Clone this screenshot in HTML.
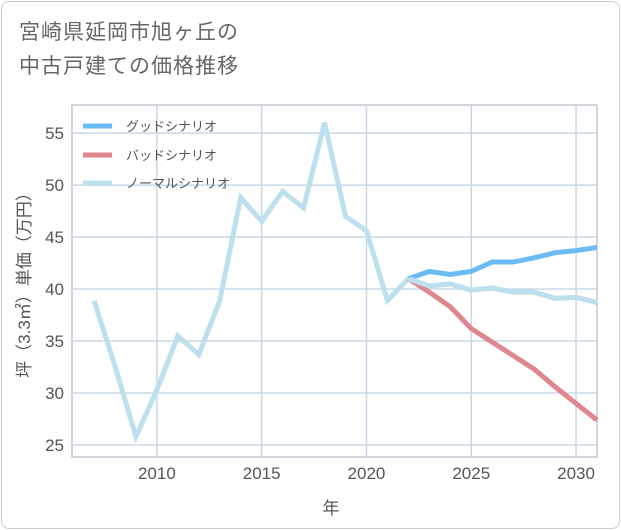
<!DOCTYPE html>
<html><head><meta charset="utf-8"><style>
body{margin:0;background:#fff;}
#card{position:absolute;left:1px;top:1px;width:617px;height:526px;border:1px solid #ccc;border-radius:8px;background:#fff;overflow:hidden;}
#title{position:absolute;left:17px;top:14px;font:21px "Liberation Sans","Noto Sans CJK JP",sans-serif;color:#666;line-height:34px;letter-spacing:1px;}
svg{position:absolute;left:0;top:0;}
text{font-family:"Liberation Sans","Noto Sans CJK JP",sans-serif;}
</style></head><body>
<div id="card">
<div id="title">宮崎県延岡市旭ヶ丘の<br>中古戸建ての価格推移</div>
</div>
<svg id="chart" width="621" height="530"></svg>
<script>
const years=[2007,2008,2009,2010,2011,2012,2013,2014,2015,2016,2017,2018,2019,2020,2021,2022,2023,2024,2025,2026,2027,2028,2029,2030,2031];
const normal=[38.9,32.6,25.8,30.3,35.5,33.7,38.9,48.8,46.5,49.4,47.8,56,47.0,45.6,38.9,41.0,40.3,40.5,39.9,40.1,39.7,39.7,39.1,39.2,38.7];
const forecastYears=[2022,2023,2024,2025,2026,2027,2028,2029,2030,2031];
const good=[41.0,41.7,41.4,41.7,42.6,42.6,43.0,43.5,43.7,44.0];
const bad=[41.0,39.7,38.3,36.2,34.9,33.6,32.3,30.6,29.0,27.4];
const xTicks=[2010,2015,2020,2025,2030];
const yTicks=[25,30,35,40,45,50,55];
const L=72,R=597,T=105,B=457,x0=2005.95,x1=2031,y0=23.85,y1=57.7;
const X=v=>L+(v-x0)/(x1-x0)*(R-L);
const Y=v=>B-(v-y0)/(y1-y0)*(B-T);
const svg=document.getElementById('chart');
const NS='http://www.w3.org/2000/svg';
function mk(t,a){const e=document.createElementNS(NS,t);for(const k in a)e.setAttribute(k,a[k]);svg.appendChild(e);return e;}
let bg=mk('rect',{x:L,y:T,width:R-L,height:B-T,fill:'#fff',stroke:'#aab','stroke-width':1});


yTicks.forEach(v=>{
 let g=mk('line',{x1:L,x2:R,y1:Y(v),y2:Y(v),stroke:'#c8d8e6','stroke-width':1.5});
 
 
 let t=mk('text',{x:L-8,y:Y(v)+6,'text-anchor':'end','font-size':17,fill:'#555'});t.textContent=v;
 
 
});
xTicks.forEach(v=>{
 let g=mk('line',{x1:X(v),x2:X(v),y1:T,y2:B,stroke:'#c8d8e6','stroke-width':1.5});
 
 
 let t=mk('text',{x:X(v),y:B+22,'text-anchor':'middle','font-size':17,fill:'#555'});t.textContent=v;
 
 
});
function line(xs,ys,c,name){
 let p=mk('polyline',{points:xs.map((x,i)=>X(x)+','+Y(ys[i])).join(' '),fill:'none',stroke:c,'stroke-width':5,'stroke-linejoin':'miter'});
 
 
}
line(years,normal,'#bde0ee','normal-scenario-line');
line(forecastYears,bad,'#e0868e','bad-scenario-line');
line(forecastYears,good,'#6bbcf5','good-scenario-line');
line(forecastYears,normal.slice(years.indexOf(2022)),'#bde0ee','normal-scenario-forecast-line');
const leg=[['グッドシナリオ','#6bbcf5',126],['バッドシナリオ','#e0868e',155],['ノーマルシナリオ','#bde0ee',183]];
leg.forEach(l=>{
 let s=mk('line',{x1:83,x2:112,y1:l[2],y2:l[2],stroke:l[1],'stroke-width':5});
 
 
 let t=mk('text',{x:126,y:l[2]+5,'font-size':13,fill:'#555'});t.textContent=l[0];
 
 
});
let yt=mk('text',{x:0,y:0,'font-size':17,fill:'#555','text-anchor':'middle',transform:'translate(30,281) rotate(-90)'});yt.textContent='坪（3.3㎡）単価（万円）';


let xt=mk('text',{x:331,y:514,'font-size':17,fill:'#555','text-anchor':'middle'});xt.textContent='年';


</script>
</body></html>
